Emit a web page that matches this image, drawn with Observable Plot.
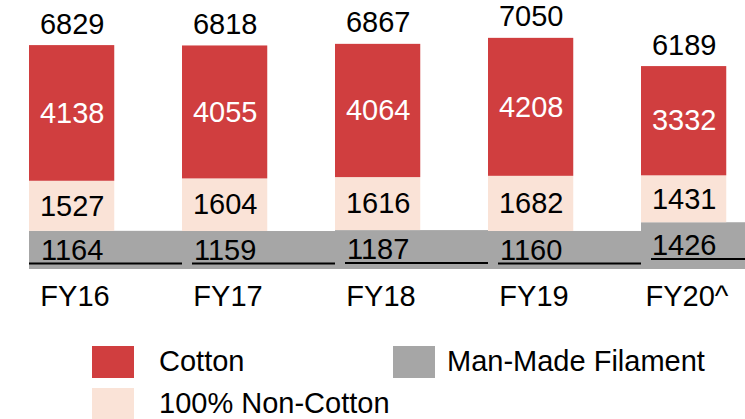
<!DOCTYPE html>
<html>
<head>
<meta charset="utf-8">
<script src="https://cdn.jsdelivr.net/npm/d3@7"></script>
<script src="https://cdn.jsdelivr.net/npm/@observablehq/plot@0.6"></script>
<style>
  html, body { margin: 0; padding: 0; background: #fff; }
  #wrap { position: relative; width: 745px; height: 419px; overflow: hidden; font-family: "Liberation Sans", Arial, sans-serif; }
  #chart { position: absolute; left: 0; top: 0; }
  .sw { position: absolute; width: 42px; height: 32px; }
  .lt { position: absolute; font-size: 29px; line-height: 29px; color: #000; white-space: nowrap; }
</style>
</head>
<body>
<div id="wrap">
  <div id="chart"></div>
  <div class="sw" style="left:92px;top:346px;background:#D03E3F"></div>
  <div class="lt" style="left:159px;top:346.5px">Cotton</div>
  <div class="sw" style="left:393px;top:346px;background:#A6A6A6"></div>
  <div class="lt" style="left:447px;top:346.5px">Man-Made Filament</div>
  <div class="sw" style="left:92px;top:388px;background:#FAE3D7"></div>
  <div class="lt" style="left:159px;top:388.5px">100% Non-Cotton</div>
</div>
<script>
const years = ["FY16", "FY17", "FY18", "FY19", "FY20^"];
const manMade = [1164, 1159, 1187, 1160, 1426];
const nonCotton = [1527, 1604, 1616, 1682, 1431];
const cotton = [4138, 4055, 4064, 4208, 3332];
const totals = [6829, 6818, 6867, 7050, 6189];

const RED = "#D03E3F", PEACH = "#FAE3D7", GREY = "#A6A6A6";

const rows = years.map((y, i) => ({
  year: y,
  mmf: manMade[i],
  non: nonCotton[i],
  cot: cotton[i],
  total: totals[i],
  first: i === 0
}));

const step = 153.75;
const barW = 86;
const inR = step - barW;
const dxC = barW / 2 - step / 2;

const chart = Plot.plot({
  width: 745,
  height: 320,
  marginTop: 0,
  marginBottom: 51,
  marginLeft: 0,
  marginRight: 0,
  style: { fontFamily: "Liberation Sans, Arial, sans-serif", fontSize: "29px", color: "#000", background: "#fff" },
  x: { type: "band", domain: years, range: [27, 27 + 5 * step], padding: 0, label: null },
  y: { domain: [0, 8000], range: [269, 269 - 8000 / 30.5], axis: null },
  marks: [
    Plot.barY(rows, { x: "year", y1: 0, y2: "mmf", fill: GREY }),
    Plot.barY(rows, { x: "year", y1: "mmf", y2: d => d.mmf + d.non, fill: PEACH, insetRight: inR }),
    Plot.barY(rows, { x: "year", y1: d => d.mmf + d.non, y2: "total", fill: RED, insetRight: inR }),
    Plot.tickY(rows.filter(d => d.first), { x: "year", y: d => d.mmf / 2, dy: 13, stroke: "#000", strokeWidth: 2 }),
    Plot.tickY(rows.filter(d => !d.first), { x: "year", y: d => d.mmf / 2, dy: 13, stroke: "#000", strokeWidth: 2, insetLeft: 10 }),
    Plot.text(rows, { x: "year", y: d => d.mmf / 2, text: d => String(d.mmf), dx: dxC, fontSize: 29, fill: "#000", lineAnchor: "middle" }),
    Plot.text(rows, { x: "year", y: d => d.mmf + d.non / 2, text: d => String(d.non), dx: dxC, fontSize: 29, fill: "#000", lineAnchor: "middle" }),
    Plot.text(rows, { x: "year", y: d => d.mmf + d.non + d.cot / 2, text: d => String(d.cot), dx: dxC, fontSize: 29, fill: "#fff", lineAnchor: "middle" }),
    Plot.text(rows, { x: "year", y: "total", text: d => String(d.total), dx: dxC, dy: -12, fontSize: 29, fill: "#000", lineAnchor: "bottom" }),
    Plot.axisX({ tickSize: 0, tickPadding: 16, fontSize: 29, dx: -31, fill: "#000", label: null })
  ]
});
document.getElementById("chart").appendChild(chart);
</script>
</body>
</html>
